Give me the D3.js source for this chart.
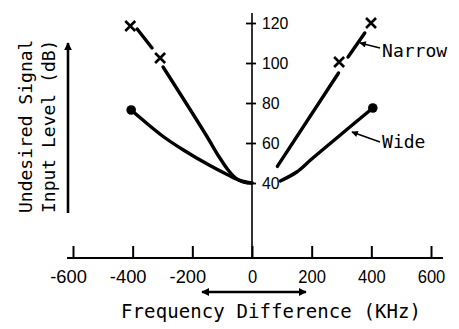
<!DOCTYPE html>
<html>
<head>
<meta charset="utf-8">
<script src="https://cdn.jsdelivr.net/npm/d3@7"></script>
<style>
    body { margin: 0; background: #fff; }
    .num { font-family: 'Liberation Sans', Arial, sans-serif; fill: #000; }
    .lab { font-family: 'DejaVu Sans Mono', 'Liberation Mono', monospace; fill: #000; }
</style>
</head>
<body>
<div id="chart"></div>
<script>
// tick values
var xTicks = [-600, -400, -200, 0, 200, 400, 600];
var yTicks = [40, 60, 80, 100, 120];

// marker points [kHz, dB]
var narrowMarks = [[-408, 118.5], [-308, 102.5], [292, 100.5], [399, 120]];
var wideMarks = [[-405, 76.5], [405, 77.5]];

// curve pieces [kHz, dB] (gaps left where the drawing has them)
var narrowLeftTop = [[-385, 117], [-335, 107.5]];
var narrowLeft = [[-298, 98], [-200, 75], [-150, 63], [-110, 53], [-80, 46.5], [-55, 42.5], [-30, 40.5], [0, 40]];
var narrowRight = [[85, 48.3], [290, 95]];
var narrowRightTop = [[322, 103], [378, 115]];
var wideLeft = [[-405, 76.5], [-300, 63.5], [-230, 56.5], [-141, 48.7], [-80, 44], [-40, 41.3], [0, 40]];
var wideRight = [[95, 41], [150, 45.5], [200, 52], [300, 64.5], [405, 77.5]];

// curve labels with leader arrows
var labels = [
    { text: "Narrow", tip: [362, 110], tail: [429, 107.5], at: [436, 103] },
    { text: "Wide", tip: [335, 65.5], tail: [429, 60.5], at: [436, 57.5] }
];

var width = 459, height = 329;
var baseY = 258;

var svg = d3.select("#chart")
    .append("svg")
    .attr("width", width)
    .attr("height", height);

var defs = svg.append("defs");
defs.append("marker")
    .attr("id", "head")
    .attr("viewBox", "0 0 10 10")
    .attr("refX", 9).attr("refY", 5)
    .attr("markerWidth", 4).attr("markerHeight", 3)
    .attr("markerUnits", "strokeWidth")
    .attr("orient", "auto-start-reverse")
    .append("path")
    .attr("d", "M0,0L10,5L0,10Z")
    .attr("fill", "#000");
defs.append("marker")
    .attr("id", "small")
    .attr("viewBox", "0 0 10 10")
    .attr("refX", 9).attr("refY", 5)
    .attr("markerWidth", 5).attr("markerHeight", 4)
    .attr("markerUnits", "strokeWidth")
    .attr("orient", "auto")
    .append("path")
    .attr("d", "M0,0L10,5L0,10Z")
    .attr("fill", "#000");

var x = d3.scaleLinear().domain([-600, 600]).range([73, 431]);
var y = d3.scaleLinear().domain([40, 120]).range([183, 23]);

// narrow digits, like the drawing's lettering
function squeeze(sel, per) {
    sel.attr("lengthAdjust", "spacingAndGlyphs")
        .attr("textLength", function(d) {
            var t = String(d);
            return t.replace("-", "").length * per + (d < 0 ? 9 : 0);
        });
}

// x axis baseline + ticks
svg.append("line")
    .attr("x1", x(-620)).attr("x2", x(640))
    .attr("y1", baseY).attr("y2", baseY)
    .attr("stroke", "#000").attr("stroke-width", 2);

var xAxis = svg.append("g")
    .attr("transform", "translate(0," + baseY + ")")
    .call(d3.axisBottom(x).tickValues(xTicks).tickSizeInner(-12).tickSizeOuter(0).tickPadding(0));
xAxis.select(".domain").remove();
xAxis.selectAll(".tick line").attr("stroke", "#000").attr("stroke-width", 2);
xAxis.selectAll(".tick text")
    .attr("class", "num")
    .attr("font-size", 19)
    .attr("y", 25)
    .attr("dy", 0)
    .attr("dx", function(d) { return d < 0 ? -5 : 0; })
    .text(function(d) { return String(d); })
    .call(squeeze, 9.2);

// y axis
svg.append("line")
    .attr("x1", x(0)).attr("x2", x(0))
    .attr("y1", y(125)).attr("y2", baseY)
    .attr("stroke", "#000").attr("stroke-width", 1.6);

var yAxis = svg.append("g")
    .attr("transform", "translate(" + x(0) + ",0)")
    .call(d3.axisRight(y).tickValues(yTicks).tickSize(4).tickPadding(6));
yAxis.select(".domain").remove();
yAxis.selectAll(".tick line").attr("x1", -6).attr("stroke", "#000").attr("stroke-width", 1.8);
yAxis.selectAll(".tick text")
    .attr("class", "num")
    .attr("font-size", 17)
    .text(function(d) { return String(d); })
    .call(squeeze, 8.8);

// curves
var line = d3.line()
    .x(function(d) { return x(d[0]); })
    .y(function(d) { return y(d[1]); })
    .curve(d3.curveCatmullRom.alpha(0.5));

var pieces = [narrowLeftTop, narrowLeft, narrowRight, narrowRightTop, wideLeft, wideRight];
svg.selectAll("path.curve")
    .data(pieces)
    .enter().append("path")
    .attr("class", "curve")
    .attr("d", line)
    .attr("fill", "none")
    .attr("stroke", "#000")
    .attr("stroke-width", 3.4)
    .attr("stroke-linecap", "round");

// markers
var s = 5;
svg.selectAll("path.cross")
    .data(narrowMarks)
    .enter().append("path")
    .attr("class", "cross")
    .attr("d", function(d) {
        var cx = x(d[0]), cy = y(d[1]);
        return "M" + (cx - s) + "," + (cy - s) + "L" + (cx + s) + "," + (cy + s) +
            "M" + (cx - s) + "," + (cy + s) + "L" + (cx + s) + "," + (cy - s);
    })
    .attr("stroke", "#000")
    .attr("stroke-width", 2.6);

svg.selectAll("circle.dot")
    .data(wideMarks)
    .enter().append("circle")
    .attr("class", "dot")
    .attr("cx", function(d) { return x(d[0]); })
    .attr("cy", function(d) { return y(d[1]); })
    .attr("r", 4.8)
    .attr("fill", "#000");

// labels with leaders
var lab = svg.selectAll("g.lbl").data(labels).enter().append("g").attr("class", "lbl");
lab.append("line")
    .attr("x1", function(d) { return x(d.tail[0]); })
    .attr("y1", function(d) { return y(d.tail[1]); })
    .attr("x2", function(d) { return x(d.tip[0]); })
    .attr("y2", function(d) { return y(d.tip[1]); })
    .attr("stroke", "#000").attr("stroke-width", 1.6)
    .attr("marker-end", "url(#small)");
lab.append("text")
    .attr("class", "lab")
    .attr("font-size", 18)
    .attr("x", function(d) { return x(d.at[0]); })
    .attr("y", function(d) { return y(d.at[1]); })
    .text(function(d) { return d.text; });

// y title + arrow
svg.append("line")
    .attr("x1", 68).attr("x2", 68)
    .attr("y1", 213).attr("y2", 43)
    .attr("stroke", "#000").attr("stroke-width", 2.6)
    .attr("marker-end", "url(#head)");

svg.append("text")
    .attr("class", "lab")
    .attr("font-size", 18)
    .attr("transform", "translate(32,213) rotate(-90)")
    .text("Undesired Signal");
svg.append("text")
    .attr("class", "lab")
    .attr("font-size", 18)
    .attr("transform", "translate(55,213) rotate(-90)")
    .text("Input Level (dB)");

// x title + double arrow
svg.append("line")
    .attr("x1", 202).attr("x2", 306)
    .attr("y1", 292).attr("y2", 292)
    .attr("stroke", "#000").attr("stroke-width", 2.6)
    .attr("marker-start", "url(#head)")
    .attr("marker-end", "url(#head)");

svg.append("text")
    .attr("class", "lab")
    .attr("font-size", 19)
    .attr("x", 121).attr("y", 318)
    .attr("textLength", 300)
    .text("Frequency Difference (KHz)");
</script>
</body>
</html>
